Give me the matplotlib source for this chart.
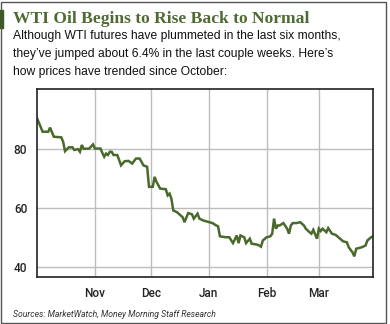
import datetime as dt
import matplotlib
matplotlib.use("Agg")
import matplotlib.pyplot as plt
import matplotlib.dates as mdates
from matplotlib.patches import Rectangle

# days since 2014-10-01 and WTI close ($/bbl)
days = [0, 3, 6, 7, 9, 13, 14, 15, 17, 19, 20, 22, 23, 24, 25, 28, 30, 31,
        34, 35, 36, 37, 38, 39, 40, 41, 43, 44, 45, 47, 49, 51, 53, 55, 57,
        59, 60, 62, 63, 64, 66, 69, 70, 71, 72, 73, 75, 78, 79, 81, 83, 84,
        86, 87, 89, 94, 96, 97, 98, 101, 103, 105, 107, 108, 109, 111, 112,
        114, 115, 118, 119, 120, 121, 123, 125, 126, 127, 128, 129, 130, 132,
        134, 135, 136, 137, 139, 141, 143, 144, 146, 147, 148, 150, 151, 152,
        153, 155, 156, 158, 160, 162, 164, 166, 167, 169, 170, 171, 174, 176,
        177, 179, 180]
prices = [90.5, 85.9, 85.9, 87.3, 84.2, 84.0, 82.5, 79.3, 80.6, 80.6, 79.7,
          80.0, 79.1, 81.4, 80.1, 80.2, 81.6, 80.2, 80.2, 78.7, 77.4, 78.5,
          78.0, 79.1, 79.1, 78.0, 78.0, 76.3, 74.5, 75.9, 76.0, 75.1, 76.8,
          76.8, 74.5, 74.0, 67.2, 67.2, 70.6, 68.9, 66.6, 66.4, 64.3, 64.9,
          63.2, 59.2, 58.6, 56.9, 55.2, 58.3, 57.9, 56.4, 58.1, 56.4, 55.8,
          54.9, 54.1, 53.8, 50.4, 50.1, 50.1, 48.1, 50.7, 48.1, 50.7, 50.1,
          48.1, 49.6, 47.9, 47.6, 47.3, 46.9, 49.0, 50.1, 50.4, 51.3, 56.4,
          53.0, 54.1, 54.1, 54.9, 53.0, 51.3, 54.1, 54.9, 54.9, 55.2, 54.1,
          53.0, 51.8, 51.3, 52.6, 49.6, 53.0, 52.2, 53.0, 51.8, 53.2, 51.3,
          50.9, 49.8, 48.7, 48.4, 46.7, 45.0, 43.6, 46.2, 46.7, 47.3, 49.0,
          50.1, 50.4]
y_ticks = [40, 60, 80]

start = dt.date(2014, 10, 1)
dates = [start + dt.timedelta(days=d) for d in days]

green = "#4a6a2c"

fig = plt.figure(figsize=(3.9, 3.24), dpi=100)
ax = fig.add_axes([0.0949, 0.145, 0.8615, 0.5803])

ax.plot(dates, prices, color=green, lw=1.8, solid_joinstyle="miter")

ax.set_xlim(dt.date(2014, 10, 1), dt.date(2015, 3, 30))
ax.set_ylim(36.6, 100.4)
ax.set_yticks(y_ticks)
ax.xaxis.set_major_locator(mdates.MonthLocator(bymonth=[11, 12, 1, 2, 3]))
ax.xaxis.set_major_formatter(mdates.DateFormatter("%b"))
ax.grid(True, color="#bdbdbd", lw=1)
ax.set_axisbelow(True)
ax.tick_params(length=0, pad=7, labelsize=8.5, labelcolor="#222222")
for lab in ax.get_xticklabels() + ax.get_yticklabels():
    lab.set_fontfamily("Roboto")
    lab.set_fontweight("medium")
for s in ax.spines.values():
    s.set_color("#222222")
    s.set_linewidth(1.2)

# outer frame + green accent bar
fig.patches.append(Rectangle((1 / 390, 1 / 324), 385 / 390, 321 / 324,
                             transform=fig.transFigure, fill=False,
                             ec="#555555", lw=1))
fig.patches.append(Rectangle((0, 1 - 28 / 324), 3 / 390, 18 / 324,
                             transform=fig.transFigure, color="#3d5a26"))

fig.text(13 / 390, 1 - 22.7 / 324, "WTI Oil Begins to Rise Back to Normal",
         family="Liberation Serif", weight="bold", size=12.6, color="#4f6b33",
         va="baseline")
sub = ["Although WTI futures have plummeted in the last six months,",
       "they\u2019ve jumped about 6.4% in the last couple weeks. Here\u2019s",
       "how prices have trended since October:"]
for i, line in enumerate(sub):
    fig.text(13 / 390, 1 - (38.5 + 18.3 * i) / 324, line,
             family="Liberation Sans", size=8.75, color="#111111", va="baseline")

fig.text(13 / 390, 1 - 317 / 324,
         "Sources: MarketWatch, Money Morning Staff Research",
         family="Roboto", style="italic", size=6.2, color="#333333",
         va="baseline")

fig.savefig("out.png", dpi=100)
